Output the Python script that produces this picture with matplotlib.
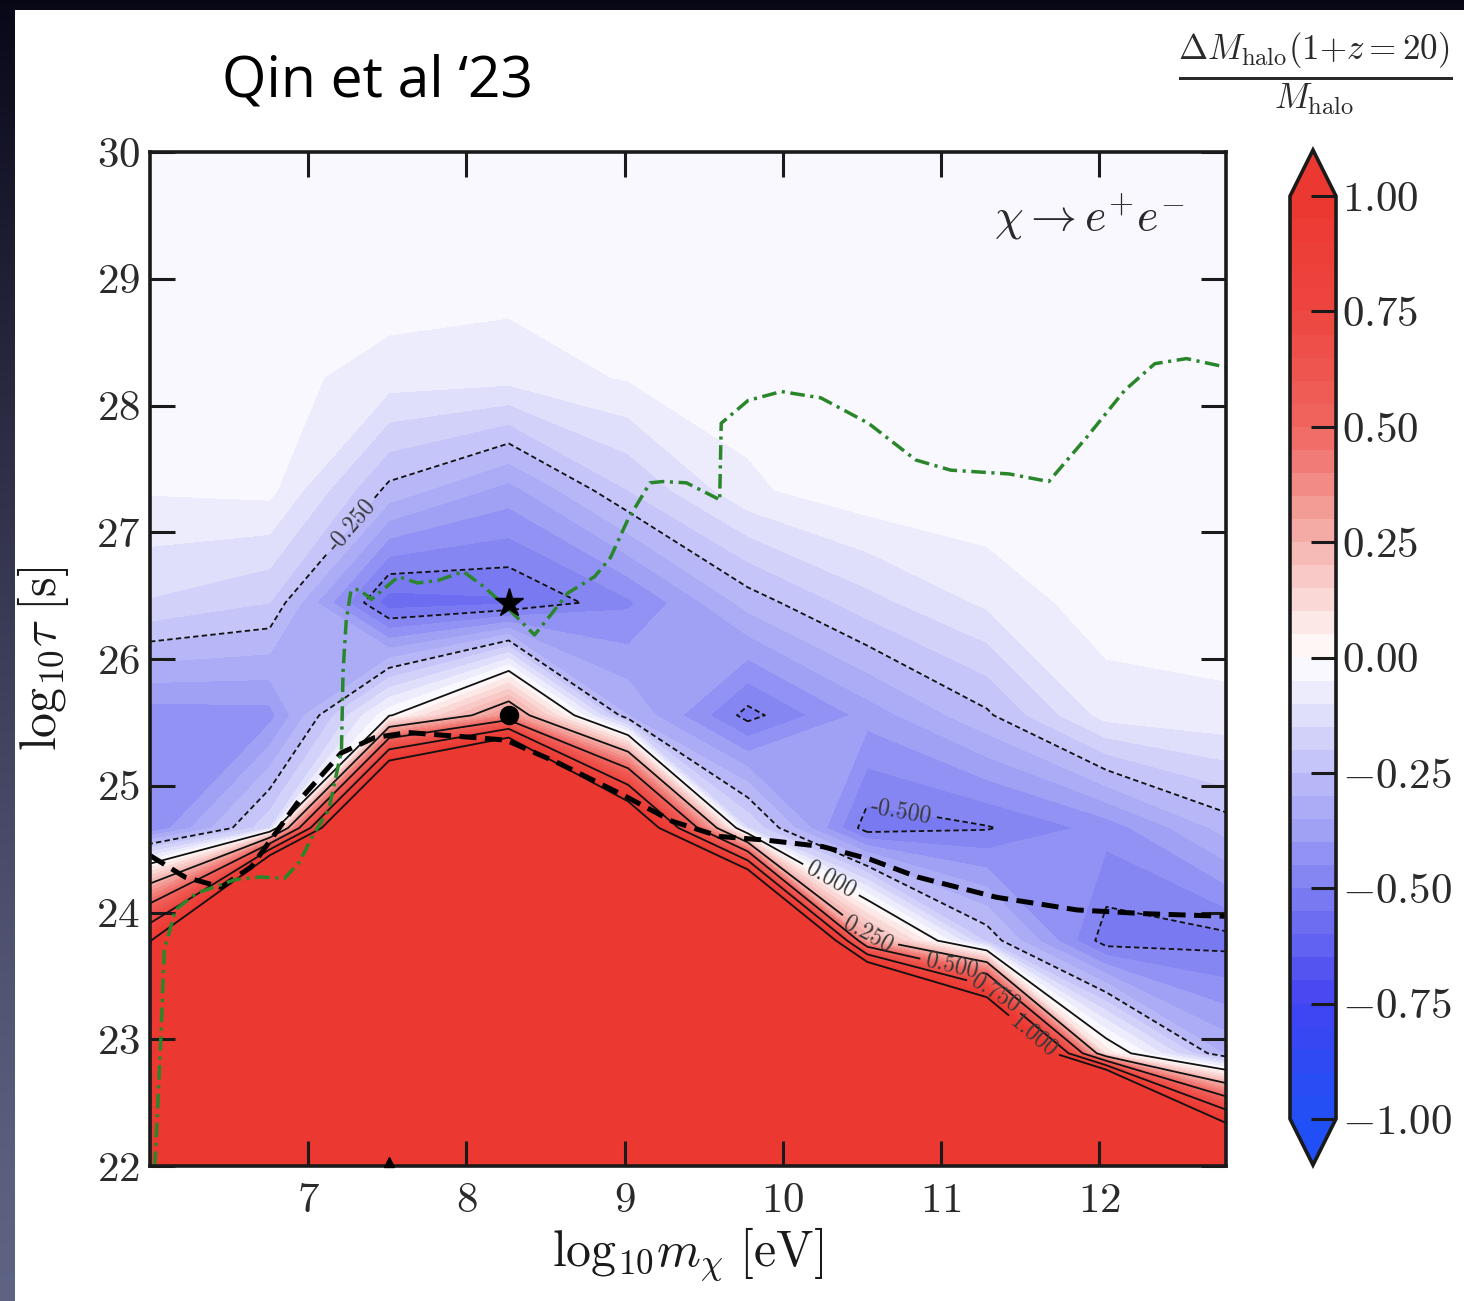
import numpy as np
import matplotlib
matplotlib.use("Agg")
import matplotlib.pyplot as plt
from matplotlib.colors import LinearSegmentedColormap
from matplotlib.patches import Rectangle

# ---------------- data ----------------
log_m = [6.0, 6.756, 7.511, 8.267, 9.022, 9.778, 10.533, 11.289, 12.044, 12.8]
log_tau = [22.0, 22.889, 23.778, 24.667, 25.556, 26.444, 27.333, 28.222, 29.111, 30.0]

# dM_halo/M_halo, one row per log_tau value, columns follow log_m
dM_t22_0 = [3.0, 6.0, 6.0, 7.0, 6.0, 5.0, 7.0, 4.0, 6.4, 1.81]
dM_t22_9 = [1.5, 5.5, 5.0, 6.0, 4.5, 4.0, 4.0, 2.2, 0.08, -0.31]
dM_t23_8 = [0.97, 4.6, 4.0, 5.0, 3.0, 2.97, 0.3, -0.21, -0.53, -0.52]
dM_t24_7 = [-0.45, -0.16, 2.5, 3.57, 1.4, -0.15, -0.53, -0.505, -0.43, -0.28]
dM_t25_6 = [-0.43, -0.42, -0.01, 0.365, -0.3, -0.52, -0.38, -0.26, -0.08, -0.063]
dM_t26_4 = [-0.155, -0.2, -0.58, -0.56, -0.46, -0.28, -0.17, -0.09, -0.02, -0.02]
dM_t27_3 = [-0.045, -0.035, -0.265, -0.37, -0.2, -0.06, -0.015, -0.01, -0.01, -0.01]
dM_t28_2 = [-0.03, -0.03, -0.074, -0.08, -0.045, -0.025, -0.01, -0.01, -0.01, -0.01]
dM_t29_1 = [-0.02, -0.02, -0.01, -0.023, -0.02, -0.02, -0.01, -0.01, -0.01, -0.01]
dM_t30_0 = [-0.02, -0.02, -0.02, -0.02, -0.02, -0.02, -0.02, -0.02, -0.02, -0.02]

# contour line levels and where their labels sit
line_levels = [-0.5, -0.25, 0.0, 0.25, 0.5, 0.75, 1.0]
label_spots = [(10.75, 24.8), (7.28, 27.05), (10.3, 24.25), (10.55, 23.85),
               (11.05, 23.5), (11.3, 23.3), (11.6, 23.05)]

# thick black dashed bound
bound_m = [6.0, 6.22, 6.45, 6.64, 6.79, 6.94, 7.21, 7.42, 7.63, 8.05, 8.25, 8.58,
           9.0, 9.3, 9.6, 9.9, 10.25, 10.55, 10.85, 11.35, 11.86, 12.3, 12.8]
bound_tau = [24.45, 24.28, 24.2, 24.36, 24.62, 24.88, 25.26, 25.38, 25.42, 25.38, 25.36, 25.18,
             24.92, 24.72, 24.6, 24.57, 24.52, 24.42, 24.28, 24.12, 24.02, 23.99, 23.97]

# green dash-dot bound
green_m = [6.03, 6.05, 6.07, 6.09, 6.16, 6.29, 6.54, 6.7, 6.85, 6.94, 7.04, 7.13, 7.21, 7.22,
           7.24, 7.27, 7.32, 7.4, 7.57, 7.69, 7.82, 7.98, 8.11, 8.27, 8.43, 8.54, 8.64, 8.81,
           8.91, 9.02, 9.16, 9.24, 9.39, 9.58, 9.6, 9.61, 9.78, 9.99, 10.24, 10.54, 10.84,
           11.06, 11.43, 11.68, 11.92, 12.16, 12.35, 12.55, 12.81]
green_tau = [22.0, 22.5, 23.05, 23.7, 24.02, 24.15, 24.26, 24.28, 24.27, 24.39, 24.63, 24.81,
             25.28, 25.9, 26.3, 26.54, 26.55, 26.47, 26.65, 26.6, 26.62, 26.69, 26.57, 26.39,
             26.19, 26.36, 26.52, 26.65, 26.8, 27.1, 27.39, 27.4, 27.39, 27.27, 27.25, 27.86,
             28.04, 28.11, 28.06, 27.86, 27.57, 27.49, 27.46, 27.4, 27.75, 28.12, 28.33, 28.37, 28.3]

star_pt = (8.267, 26.444)
dot_pt = (8.267, 25.556)
tri_pt = (7.511, 22.03)

cbar_ticks = [1.0, 0.75, 0.5, 0.25, 0.0, -0.25, -0.5, -0.75, -1.0]
x_ticks = [7, 8, 9, 10, 11, 12]
y_ticks = [22, 23, 24, 25, 26, 27, 28, 29, 30]

# ---------------- style ----------------
plt.rcParams["mathtext.fontset"] = "cm"
plt.rcParams["font.family"] = ["cmr10", "DejaVu Serif"]
plt.rcParams["axes.formatter.use_mathtext"] = True
plt.rcParams["axes.unicode_minus"] = False
plt.rcParams["contour.negative_linestyle"] = (0, (3.0, 1.8))

W, H = 1464, 1301
fig = plt.figure(figsize=(W / 100, H / 100), dpi=100)

# slide background
bg = fig.add_axes([0, 0, 1, 1], zorder=-5)
top_c = np.array([0.03, 0.03, 0.09])
bot_c = np.array([0.37, 0.39, 0.52])
t = np.linspace(0, 1, 256)[:, None]
grad = (top_c[None, :] * (1 - t) ** 1.3 + bot_c[None, :] * (1 - (1 - t) ** 1.3))[:, None, :]
bg.imshow(grad, aspect="auto", extent=[0, 1, 0, 1], origin="upper")
bg.add_patch(Rectangle((15 / W, 0), 1, 1 - 10 / H, facecolor="white", edgecolor="none"))
bg.set_xlim(0, 1); bg.set_ylim(0, 1); bg.axis("off")

ax = fig.add_axes([150 / W, (H - 1166) / H, 1076 / W, 1014 / H])

cmap = LinearSegmentedColormap.from_list("slide_bwr", [
    (0.0, "#2050f5"), (0.05, "#2b4cf4"), (0.125, "#4343f1"), (0.25, "#8080f2"),
    (0.375, "#bebef8"), (0.5, "#ffffff"), (0.625, "#f5b3ae"), (0.75, "#f06660"),
    (0.875, "#ed4640"), (1.0, "#eb3830")])

X, Y = np.meshgrid(log_m, log_tau)
Z = np.array([dM_t22_0, dM_t22_9, dM_t23_8, dM_t24_7, dM_t25_6,
              dM_t26_4, dM_t27_3, dM_t28_2, dM_t29_1, dM_t30_0])

levels = np.linspace(-1, 1, 41)
cf = ax.contourf(X, Y, Z, levels=levels, cmap=cmap, extend="both")

for lv, spot in zip(line_levels, label_spots):
    cs = ax.contour(X, Y, Z, levels=[lv], colors="#111111", linewidths=1.3)
    ax.clabel(cs, manual=[spot], inline=True, fmt="%.3f", fontsize=17, colors="#3a3a3a")

ax.plot(bound_m, bound_tau, color="k", lw=3.6, ls=(0, (3.4, 1.7)))
ax.plot(green_m, green_tau, color="#2a862a", lw=2.5, ls=(0, (4.2, 1.6, 0.9, 1.6)))
ax.plot(*star_pt, marker="*", ms=21, color="k", zorder=6)
ax.plot(*dot_pt, marker="o", ms=13, color="k", zorder=6)
ax.plot(*tri_pt, marker="^", ms=7, color="k", zorder=6, clip_on=False)

ax.set_xlim(6.0, 12.8)
ax.set_ylim(22, 30)
ax.set_xticks(x_ticks)
ax.set_yticks(y_ticks)
ax.set_xticklabels([rf"${v}$" for v in x_ticks])
ax.set_yticklabels([rf"${v}$" for v in y_ticks])
ax.tick_params(direction="in", length=18, width=2.2, top=True, right=True,
               labelsize=31, colors="#1a1a1a", labelcolor="#2a2a2a")
ax.tick_params(axis="y", pad=7)
ax.tick_params(axis="x", pad=12)
for s in ax.spines.values():
    s.set_linewidth(2.6)
    s.set_color("#1a1a1a")

ax.set_xlabel(r"$\mathrm{log}_{10}m_\chi\ [\mathrm{eV}]$", fontsize=36, labelpad=4, color="#1a1a1a")
ax.set_ylabel(r"$\mathrm{log}_{10}\tau\ [\mathrm{s}]$", fontsize=36, labelpad=18, color="#1a1a1a")

ax.text(0.962, 0.935, r"$\chi \rightarrow e^{+}e^{-}$", transform=ax.transAxes,
        ha="right", va="center", fontsize=33, color="#2a2a2a")

# colorbar
cax = fig.add_axes([1290 / W, (H - 1165) / H, 46 / W, 1015 / H])
cb = fig.colorbar(cf, cax=cax, extend="both")
cb.set_ticks(cbar_ticks)
cb.set_ticklabels([rf"${v:.2f}$" for v in cbar_ticks])
cb.ax.tick_params(direction="in", length=18, width=2.2, labelsize=31, pad=4,
                  colors="#1a1a1a", labelcolor="#2a2a2a")
cb.outline.set_linewidth(2.6)
cb.outline.set_edgecolor("#1a1a1a")

fig.text(1315 / W, 1 - 73 / H,
         r"$\frac{\Delta M_{\rm halo}(1{+}z{=}20)}{M_{\rm halo}}$",
         ha="center", va="center", fontsize=36, color="#2a2a2a")

fig.text(222 / W, 1 - 97 / H, "Qin et al \u201823", fontsize=41, family="Open Sans",
         ha="left", va="baseline", color="black")

fig.savefig("out.png", dpi=100)
